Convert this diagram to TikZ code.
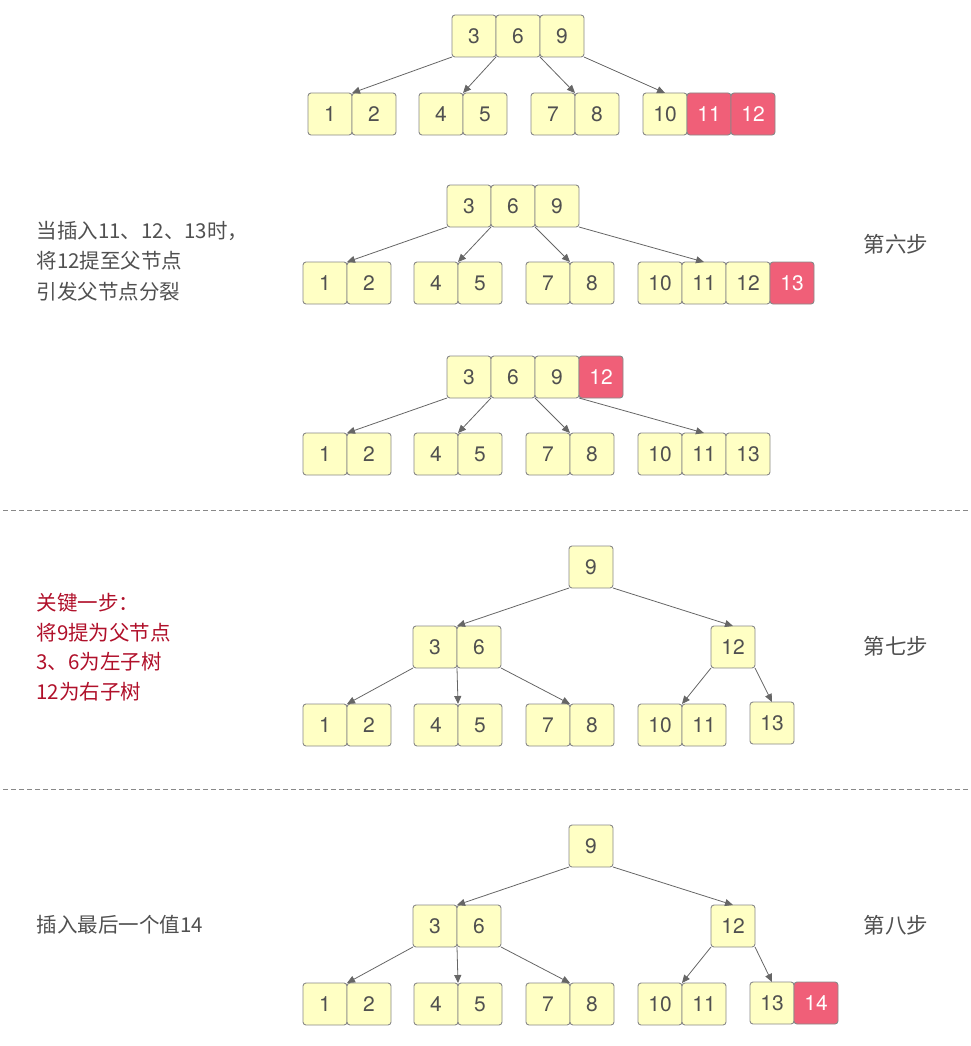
\documentclass[tikz,border=0pt]{standalone}
\usepackage{fontspec}
\setmainfont{TeX Gyre Heros}
\newfontfamily\cjk{Noto Sans CJK SC}
\usepackage{xcolor}
\usetikzlibrary{arrows.meta,calc}
\definecolor{keyfill}{RGB}{255,255,196}
\definecolor{keyline}{RGB}{136,136,136}
\definecolor{newfill}{RGB}{240,95,120}
\definecolor{txtgray}{RGB}{80,80,80}
\definecolor{txtred}{RGB}{176,16,42}
\tikzset{
	key/.style={draw=keyline, fill=keyfill, rounded corners=3pt, line width=0.9pt,
			minimum width=44pt, minimum height=42pt, inner sep=0pt, outer sep=0pt,
			text=txtgray, font=\fontsize{21}{21}\selectfont},
	newkey/.style={key, fill=newfill, text=white},
	link/.style={-{Triangle[length=8pt,width=7pt]}, draw=black!60, line width=0.8pt},
	note/.style={anchor=west, align=left, text=txtgray, font=\cjk\fontsize{20.5}{30.5}\selectfont},
	steplabel/.style={text=txtgray, font=\cjk\fontsize{21.5}{22}\selectfont}
}

\begin{document}
\begin{tikzpicture}[x=1pt,y=-1pt]
		\useasboundingbox (0,0) rectangle (970,1046);

		%--- Step five: leaf 10 11 12 is full ---
		\node[key] (a3) at (474,36) {3};
		\node[key] (a6) at (518,36) {6};
		\node[key] (a9) at (562,36) {9};
		\node[key] (a1) at (330,114) {1};
		\node[key] (a2) at (374,114) {2};
		\node[key] (a4) at (441,114) {4};
		\node[key] (a5) at (485,114) {5};
		\node[key] (a7) at (553,114) {7};
		\node[key] (a8) at (597,114) {8};
		\node[key] (a10) at (665,114) {10};
		\node[newkey] (a11) at (709,114) {11};
		\node[newkey] (a12) at (753,114) {12};
		\draw[link] (a3.south west) -- (a1.north east);
		\draw[link] (a3.south east) -- (a4.north east);
		\draw[link] (a6.south east) -- (a7.north east);
		\draw[link] (a9.south east) -- (a10.north);

		%--- Step six: insert 13 ---
		\node[key] (b3) at (469,206) {3};
		\node[key] (b6) at (513,206) {6};
		\node[key] (b9) at (557,206) {9};
		\node[key] (b1) at (325,283) {1};
		\node[key] (b2) at (369,283) {2};
		\node[key] (b4) at (436,283) {4};
		\node[key] (b5) at (480,283) {5};
		\node[key] (b7) at (548,283) {7};
		\node[key] (b8) at (592,283) {8};
		\node[key] (b10) at (660,283) {10};
		\node[key] (b11) at (704,283) {11};
		\node[key] (b12) at (748,283) {12};
		\node[newkey] (b13) at (792,283) {13};
		\draw[link] (b3.south west) -- (b1.north east);
		\draw[link] (b3.south east) -- (b4.north east);
		\draw[link] (b6.south east) -- (b7.north east);
		\draw[link] (b9.south east) -- (b11.north);
		\node[note] (noteb) at (33,261) {当插入11、12、13时，\\将12提至父节点\\引发父节点分裂};
		\node[steplabel] (stepb) at (896,244) {第六步};

		% 12 moves up into the parent
		\node[key] (c3) at (469,377) {3};
		\node[key] (c6) at (513,377) {6};
		\node[key] (c9) at (557,377) {9};
		\node[newkey] (c12) at (601,377) {12};
		\node[key] (c1) at (325,454) {1};
		\node[key] (c2) at (369,454) {2};
		\node[key] (c4) at (436,454) {4};
		\node[key] (c5) at (480,454) {5};
		\node[key] (c7) at (548,454) {7};
		\node[key] (c8) at (592,454) {8};
		\node[key] (c10) at (660,454) {10};
		\node[key] (c11) at (704,454) {11};
		\node[key] (c13) at (748,454) {13};
		\draw[link] (c3.south west) -- (c1.north east);
		\draw[link] (c3.south east) -- (c4.north east);
		\draw[link] (c6.south east) -- (c7.north east);
		\draw[link] (c9.south east) -- (c11.north);

		\coordinate (sepa) at (3,510);
		\coordinate (sepb) at (970,510);
		\draw[keyline, line width=0.9pt, dash pattern=on 5pt off 3pt] (sepa) -- (sepb);

		%--- Step seven: split of the root ---
		\node[key] (d9) at (591,567) {9};
		\node[key] (d3) at (435,647) {3};
		\node[key] (d6) at (479,647) {6};
		\node[key] (d12) at (733,647) {12};
		\node[key] (d1) at (325,725) {1};
		\node[key] (d2) at (369,725) {2};
		\node[key] (d4) at (436,725) {4};
		\node[key] (d5) at (480,725) {5};
		\node[key] (d7) at (548,725) {7};
		\node[key] (d8) at (592,725) {8};
		\node[key] (d10) at (660,725) {10};
		\node[key] (d11) at (704,725) {11};
		\node[key] (d13) at (772,723) {13};
		\draw[link] (d9.south west) -- (d3.north east);
		\draw[link] (d9.south east) -- (d12.north);
		\draw[link] (d3.south west) -- (d1.north east);
		\draw[link] (d3.south east) -- (d4.north east);
		\draw[link] (d6.south east) -- (d7.north east);
		\draw[link] (d12.south west) -- (d10.north east);
		\draw[link] (d12.south east) -- (d13.north);
		\node[note, text=txtred, font=\cjk\fontsize{20.5}{29.5}\selectfont] (noted) at (33,647)
			{关键一步：\\将9提为父节点\\3、6为左子树\\12为右子树};
		\node[steplabel] (stepd) at (896,646) {第七步};

		\coordinate (sepc) at (3,789);
		\coordinate (sepd) at (970,789);
		\draw[keyline, line width=0.9pt, dash pattern=on 5pt off 3pt] (sepc) -- (sepd);

		%--- Step eight: insert 14 ---
		\node[key] (e9) at (591,846) {9};
		\node[key] (e3) at (435,926) {3};
		\node[key] (e6) at (479,926) {6};
		\node[key] (e12) at (733,926) {12};
		\node[key] (e1) at (325,1004) {1};
		\node[key] (e2) at (369,1004) {2};
		\node[key] (e4) at (436,1004) {4};
		\node[key] (e5) at (480,1004) {5};
		\node[key] (e7) at (548,1004) {7};
		\node[key] (e8) at (592,1004) {8};
		\node[key] (e10) at (660,1004) {10};
		\node[key] (e11) at (704,1004) {11};
		\node[key] (e13) at (772,1003) {13};
		\node[newkey] (e14) at (816,1003) {14};
		\draw[link] (e9.south west) -- (e3.north east);
		\draw[link] (e9.south east) -- (e12.north);
		\draw[link] (e3.south west) -- (e1.north east);
		\draw[link] (e3.south east) -- (e4.north east);
		\draw[link] (e6.south east) -- (e7.north east);
		\draw[link] (e12.south west) -- (e10.north east);
		\draw[link] (e12.south east) -- (e13.north);
		\node[note] (notee) at (33,925) {插入最后一个值14};
		\node[steplabel] (stepe) at (896,925) {第八步};
	\end{tikzpicture}
\end{document}
